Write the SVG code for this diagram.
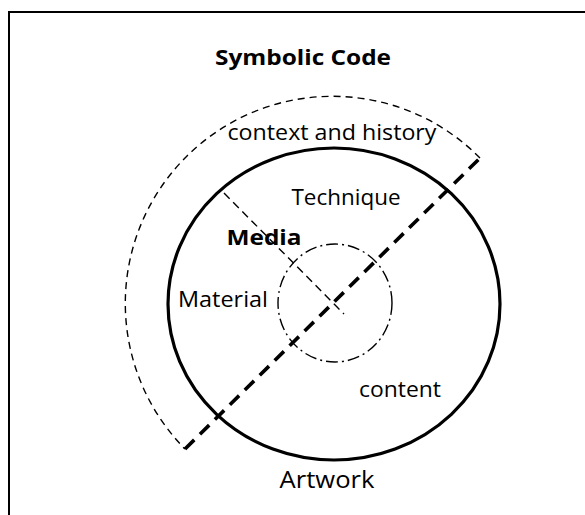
<svg xmlns="http://www.w3.org/2000/svg" width="585" height="515" viewBox="0 0 585 515">
  <style>
    text { font-family: "Open Sans", "Liberation Sans", sans-serif; fill: #000; }
    .lbl { font-size: 21px; }
    .bold { font-weight: bold; font-size: 22px; }
    .frame { fill: none; stroke: #000; stroke-width: 2; }
    .main { fill: none; stroke: #000; stroke-width: 3.2; }
    .core { fill: none; stroke: #000; stroke-width: 1.4; stroke-dasharray: 12 4 2 4; }
    .sector { fill: none; stroke: #000; stroke-width: 1.4; stroke-dasharray: 7 5; }
    .axis { fill: none; stroke: #000; stroke-width: 3.6; stroke-dasharray: 13 8; }
    .split { fill: none; stroke: #000; stroke-width: 1.4; stroke-dasharray: 8 5; }
  </style>
  <rect width="585" height="515" fill="#fff"/>

  <!-- open frame: left and top edges -->
  <path class="frame" d="M9,515 V12 H585"/>

  <text class="bold" x="303" y="65" text-anchor="middle" textLength="176" lengthAdjust="spacingAndGlyphs">Symbolic Code</text>

  <!-- outer half-ring: context and history -->
  <g id="context">
    <path class="sector" d="M480,158 A206,206 0 0 0 185,449"/>
    <text class="lbl" x="332" y="140" text-anchor="middle" textLength="209" lengthAdjust="spacingAndGlyphs">context and history</text>
  </g>

  <!-- artwork -->
  <g id="artwork">
    <ellipse class="main" cx="334" cy="304" rx="166" ry="156"/>
    <text class="lbl" x="327" y="488" text-anchor="middle" textLength="95" lengthAdjust="spacingAndGlyphs" style="font-size:23px">Artwork</text>
  </g>

  <!-- media core -->
  <g id="media">
    <ellipse class="core" cx="335" cy="303" rx="57" ry="59"/>
    <text class="bold" x="264" y="245" text-anchor="middle" textLength="75" lengthAdjust="spacingAndGlyphs">Media</text>
  </g>

  <g id="technique">
    <text class="lbl" x="346" y="205" text-anchor="middle" textLength="109" lengthAdjust="spacingAndGlyphs">Technique</text>
  </g>
  <g id="material">
    <text class="lbl" x="223" y="307" text-anchor="middle" textLength="90" lengthAdjust="spacingAndGlyphs">Material</text>
  </g>
  <g id="content">
    <text class="lbl" x="400" y="397" text-anchor="middle" textLength="82" lengthAdjust="spacingAndGlyphs">content</text>
  </g>

  <!-- dividing lines -->
  <g id="connectors">
    <path class="axis" d="M185,449 L480,158"/>
    <path class="split" d="M224,193 L344,314"/>
  </g>
</svg>
